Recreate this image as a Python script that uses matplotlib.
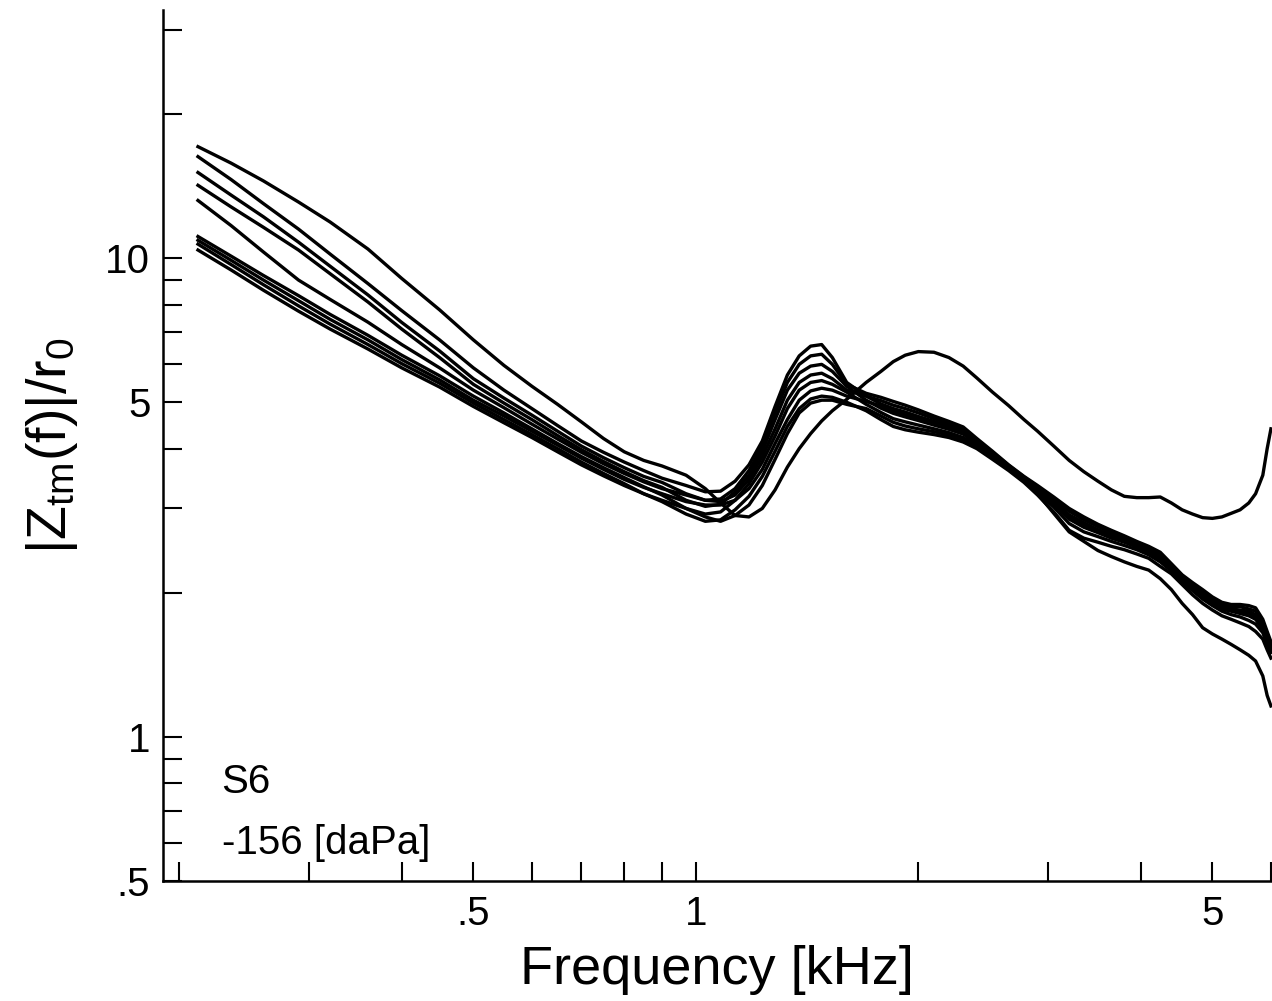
import numpy as np
import matplotlib.pyplot as plt

plt.rcParams['font.family'] = ['Liberation Sans', 'DejaVu Sans']
plt.rcParams['mathtext.fontset'] = 'custom'
plt.rcParams['mathtext.rm'] = 'Liberation Sans'
plt.rcParams['mathtext.default'] = 'regular'

# frequencias (kHz) comuns a todas as curvas
freq = [0.212, 0.235, 0.26, 0.29, 0.32, 0.36, 0.4, 0.45, 0.5, 0.55,
        0.6, 0.65, 0.7, 0.75, 0.8, 0.85, 0.9, 0.97,
        1.03, 1.08, 1.13, 1.18, 1.23, 1.28, 1.33, 1.38, 1.43, 1.48,
        1.53, 1.6, 1.7,
        1.78, 1.85, 1.92, 2.0, 2.1, 2.2, 2.3, 2.4, 2.52, 2.65,
        2.78, 2.9, 3.05, 3.2, 3.35, 3.5, 3.65, 3.8, 3.95, 4.1,
        4.25, 4.4, 4.55, 4.7, 4.85, 5.0, 5.15, 5.3, 5.45, 5.6,
        5.72, 5.85, 5.93, 6.0]

# |Ztm(f)|/r0, uma lista por curva
z_a = [17.1, 15.8, 14.5, 13.1, 11.9, 10.45, 9.07, 7.8, 6.75, 5.97,
       5.4, 4.95, 4.55, 4.2, 3.94, 3.78, 3.68, 3.52,
       3.3, 3.08, 2.9, 2.88, 3.0, 3.28, 3.66, 4.0, 4.3, 4.57,
       4.8, 5.07, 5.5,
       5.8, 6.08, 6.27, 6.38, 6.36, 6.2, 5.95, 5.62, 5.25, 4.92,
       4.6, 4.35, 4.05, 3.78, 3.58, 3.42, 3.28, 3.18, 3.16, 3.16,
       3.17, 3.08, 2.98, 2.92, 2.87, 2.86, 2.88, 2.93, 2.98, 3.08,
       3.22, 3.52, 4.0, 4.4]
z_b1 = [16.3, 14.6, 13.0, 11.5, 10.2, 8.85, 7.77, 6.75, 5.9, 5.3,
        4.85, 4.47, 4.15, 3.93, 3.75, 3.6, 3.47, 3.35,
        3.25, 3.26, 3.42, 3.7, 4.15, 4.9, 5.7, 6.25, 6.55, 6.6,
        6.2, 5.5, 5.15,
        4.96, 4.85, 4.77, 4.67, 4.56, 4.46, 4.35, 4.14, 3.91, 3.67,
        3.47, 3.31, 3.1, 2.91, 2.8, 2.71, 2.64, 2.58, 2.52, 2.46,
        2.38, 2.27, 2.15, 2.06, 1.99, 1.92, 1.87, 1.85, 1.84, 1.83,
        1.8, 1.71, 1.62, 1.54]
z_b2 = [15.1, 13.55, 12.2, 10.8, 9.62, 8.38, 7.34, 6.4, 5.6, 5.1,
        4.7, 4.35, 4.05, 3.83, 3.65, 3.5, 3.4, 3.22,
        3.12, 3.14, 3.3, 3.6, 4.05, 4.75, 5.5, 6.0, 6.25, 6.3,
        6.0, 5.45, 5.22,
        5.12, 5.02, 4.93, 4.82, 4.68, 4.56, 4.44, 4.2, 3.95, 3.7,
        3.5, 3.35, 3.17, 3.0, 2.88, 2.78, 2.7, 2.63, 2.56, 2.5,
        2.43, 2.3, 2.18, 2.1, 2.03, 1.96, 1.91, 1.89, 1.89, 1.88,
        1.86, 1.76, 1.66, 1.58]
z_b3 = [14.2, 12.8, 11.6, 10.4, 9.28, 8.1, 7.11, 6.2, 5.45, 4.98,
        4.6, 4.26, 3.98, 3.76, 3.58, 3.43, 3.32, 3.12,
        3.03, 3.06, 3.25, 3.52, 3.95, 4.6, 5.3, 5.75, 5.95, 6.0,
        5.8, 5.4, 5.05,
        4.86, 4.74, 4.66, 4.58, 4.48, 4.39, 4.29, 4.1, 3.88, 3.65,
        3.45, 3.28, 3.06, 2.85, 2.74, 2.67, 2.6, 2.55, 2.49, 2.43,
        2.35, 2.25, 2.13, 2.04, 1.97, 1.9, 1.85, 1.83, 1.81, 1.79,
        1.76, 1.68, 1.59, 1.52]
z_b4 = [13.2, 11.7, 10.3, 9.0, 8.2, 7.35, 6.6, 5.9, 5.3, 4.87,
        4.5, 4.19, 3.93, 3.72, 3.55, 3.41, 3.3, 3.2,
        3.12, 3.1, 3.2, 3.45, 3.85, 4.4, 5.05, 5.5, 5.7, 5.75,
        5.6, 5.3, 5.15,
        5.04, 4.93, 4.85, 4.75, 4.62, 4.51, 4.39, 4.17, 3.93, 3.69,
        3.49, 3.33, 3.14, 2.96, 2.84, 2.75, 2.67, 2.6, 2.54, 2.48,
        2.41, 2.28, 2.17, 2.08, 2.01, 1.94, 1.89, 1.87, 1.87, 1.85,
        1.83, 1.74, 1.64, 1.56]
z_b5 = [11.1, 10.1, 9.2, 8.35, 7.63, 6.9, 6.27, 5.68, 5.15, 4.75,
        4.4, 4.1, 3.85, 3.65, 3.48, 3.33, 3.2, 3.0,
        2.92, 2.95, 3.12, 3.38, 3.75, 4.25, 4.85, 5.3, 5.5, 5.55,
        5.45, 5.25, 4.95,
        4.76, 4.62, 4.55, 4.48, 4.4, 4.32, 4.22, 4.06, 3.85, 3.63,
        3.43, 3.25, 3.02, 2.79, 2.68, 2.62, 2.56, 2.51, 2.46, 2.4,
        2.32, 2.22, 2.11, 2.02, 1.94, 1.88, 1.83, 1.8, 1.78, 1.75,
        1.72, 1.65, 1.56, 1.5]
z_b6 = [10.9, 9.9, 9.0, 8.15, 7.45, 6.75, 6.14, 5.57, 5.05, 4.68,
        4.35, 4.07, 3.82, 3.62, 3.45, 3.32, 3.22, 3.1,
        3.05, 3.05, 3.12, 3.3, 3.62, 4.1, 4.6, 5.05, 5.28, 5.35,
        5.3, 5.15, 5.02,
        4.91, 4.79, 4.71, 4.62, 4.52, 4.42, 4.32, 4.12, 3.89, 3.66,
        3.46, 3.29, 3.08, 2.88, 2.77, 2.69, 2.62, 2.56, 2.5, 2.44,
        2.37, 2.26, 2.14, 2.05, 1.98, 1.91, 1.86, 1.84, 1.83, 1.81,
        1.78, 1.7, 1.6, 1.53]
z_b7 = [10.7, 9.7, 8.8, 7.95, 7.28, 6.6, 6.02, 5.48, 4.98, 4.6,
        4.28, 4.0, 3.75, 3.55, 3.38, 3.22, 3.1, 2.92,
        2.82, 2.84, 2.98, 3.18, 3.5, 3.95, 4.45, 4.85, 5.08, 5.15,
        5.12, 5.0, 4.8,
        4.6, 4.45, 4.38, 4.33, 4.28, 4.22, 4.13, 4.0, 3.8, 3.6,
        3.4, 3.2, 2.95, 2.7, 2.6, 2.55, 2.5, 2.46, 2.41, 2.36,
        2.27, 2.19, 2.08, 1.98, 1.9, 1.84, 1.79, 1.76, 1.73, 1.7,
        1.66, 1.6, 1.52, 1.46]
z_b8 = [10.4, 9.45, 8.57, 7.75, 7.11, 6.46, 5.9, 5.38, 4.9, 4.53,
        4.22, 3.94, 3.7, 3.51, 3.35, 3.22, 3.12, 3.0,
        2.88, 2.82, 2.9, 3.05, 3.35, 3.8, 4.3, 4.75, 4.98, 5.05,
        5.05, 4.95, 4.85,
        4.68, 4.54, 4.46, 4.4, 4.34, 4.27, 4.18, 4.03, 3.82, 3.62,
        3.42, 3.22, 2.93, 2.68, 2.56, 2.45, 2.38, 2.32, 2.27, 2.23,
        2.14, 2.03, 1.9, 1.8, 1.69, 1.64, 1.6, 1.56, 1.52, 1.48,
        1.44, 1.34, 1.22, 1.16]

curvas = [z_a, z_b1, z_b2, z_b3, z_b4, z_b5, z_b6, z_b7, z_b8]

# ticks dos eixos
x_major = [0.5, 1, 5]
x_major_lbl = ['.5', '1', '5']
x_minor = [0.2, 0.3, 0.4, 0.6, 0.7, 0.8, 0.9, 2, 3, 4, 6]
y_major = [0.5, 1, 5, 10]
y_major_lbl = ['.5', '1', '5', '10']
y_minor = [0.6, 0.7, 0.8, 0.9, 2, 3, 4, 6, 7, 8, 9, 20, 30]

fig = plt.figure(figsize=(12.72, 10.01), dpi=100)
ax = fig.add_axes([0.128, 0.12, 0.872, 0.87])

for z in curvas:
    ax.plot(freq, z, color='black', lw=2.4, solid_joinstyle='round')

ax.set_xscale('log')
ax.set_yscale('log')
ax.set_xlim(0.19, 6.02)
ax.set_ylim(0.5, 33)

ax.set_xticks(x_major)
ax.set_xticklabels(x_major_lbl)
ax.set_xticks(x_minor, minor=True)
ax.set_xticklabels([], minor=True)
ax.set_yticks(y_major)
ax.set_yticklabels(y_major_lbl)
ax.set_yticks(y_minor, minor=True)
ax.set_yticklabels([], minor=True)

ax.spines['top'].set_visible(False)
ax.spines['right'].set_visible(False)
for s in ['left', 'bottom']:
    ax.spines[s].set_linewidth(1.8)

ax.tick_params(which='both', direction='in', length=14, width=1.5, labelsize=29)
ax.tick_params(axis='y', which='both', pad=9)
ax.tick_params(axis='x', which='both', pad=10)

ax.set_xlabel('Frequency [kHz]', fontsize=39, labelpad=9)
ax.set_ylabel(r'$|Z_{tm}(f)|/r_0$', fontsize=40, labelpad=18)

ax.text(0.053, 0.114, 'S6', transform=ax.transAxes, fontsize=29, va='center')
ax.text(0.053, 0.044, '-156 [daPa]', transform=ax.transAxes, fontsize=29, va='center')

plt.savefig('out.png', dpi=100)
